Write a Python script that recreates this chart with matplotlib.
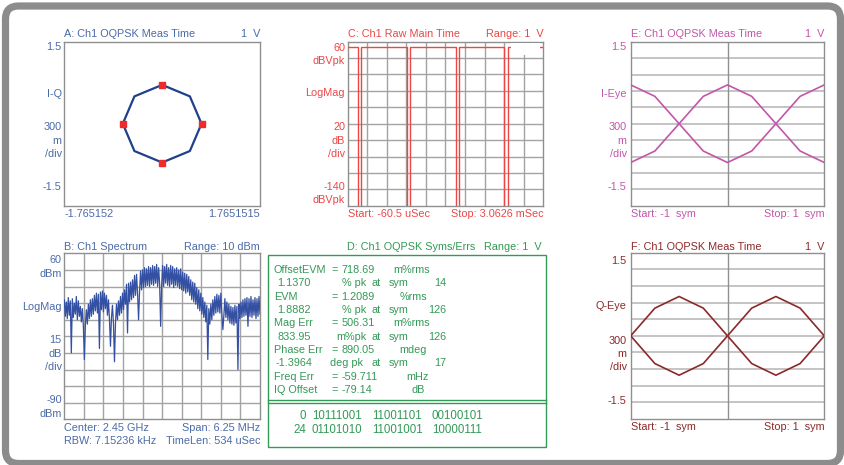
import numpy as np
import matplotlib
matplotlib.use("Agg")
import matplotlib.pyplot as plt
from matplotlib.patches import FancyBboxPatch, Rectangle

plt.rcParams['font.family'] = ['Liberation Sans', 'DejaVu Sans']

# ---------------- data ----------------
# A: I-Q constellation (octagon path) and symbol points
iq_i = [0, 0.5, 0.71, 0.5, 0, -0.5, -0.71, -0.5, 0]
iq_q = [0.71, 0.5, 0, -0.5, -0.71, -0.5, 0, 0.5, 0.71]
sym_i = [0, 0.71, 0, -0.71]
sym_q = [0.71, 0, -0.71, 0]
a_xlim = (-1.765152, 1.7651515)

# C: raw main time (burst edges in uSec)
c_start, c_stop = -60.5, 3062.6
c_gap_start = [104.5, 879.6, 1664.4, 2442.7]
c_gap_end = [158.9, 932.5, 1717.3, 2497.2]
c_on_level = 53
c_off_level = -200

# B: spectrum (dBm), one value per display column
b_center_ghz = 2.45
b_span_mhz = 6.25
b_dbm = [
    18, 3, 16, 1, 20, 4, 17, -30, 19, 2, 15, 5, 21, 0,
    17, 3, 12, -2, 10, -6, -36, -5, 9, -4, 14, 1, 18, 3,
    19, 5, 22, 8, 24, 6, 23, -26, 25, 9, 26, 7, 24, 10,
    22, 4, 18, 0, -24, 2, 13, -4, -38, -3, 14, 0, 17, 4,
    21, 6, 24, 9, 27, 14, 32, -12, 33, 16, 34, 18, 36, 20,
    40, 22, 41, 24, 0, 26, 44, 27, 45, 29, 47, 30, 46, 31,
    48, 30, 47, 32, 49, 31, 48, 33, 50, 30, 47, 32, -6, 31,
    49, 30, 48, 33, 50, 31, 47, 30, 49, 32, 48, 29, 46, 31,
    47, 30, 45, 28, 46, 27, 43, 26, 42, 24, 41, 25, 39, 22,
    36, 18, 34, 16, 33, 14, 29, 10, 27, 8, 24, 5, 20, 2,
    16, -2, 13, -36, 10, -4, 14, 0, 18, 4, 21, 6, 23, 7,
    22, 6, 24, 5, -9, 4, 19, 2, 16, 0, 14, -3, 12, -4,
    11, -5, 13, -3, 12, -45, 14, 1, 16, 2, 18, 3, 19, 4,
    20, -6, 19, 3, 21, 2, 18, 4, 20, 1, 19, 3, 21, 5,
]

# E / F: eye diagrams, quarter-symbol samples from -1 to 1 sym
eye_t = [-1, -0.75, -0.5, -0.25, 0, 0.25, 0.5, 0.75, 1]
i_eye = [0.71, 0.5, 0, -0.5, -0.71, -0.5, 0, 0.5, 0.71]
q_eye = [0, 0.5, 0.71, 0.5, 0, -0.5, -0.71, -0.5, 0]

# D: syms/errs table
d_rows = [
    ("OffsetEVM", "=", "718.69", "m%rms"),
    ("1.1370", "% pk", "at", "sym", "14"),
    ("EVM", "=", "1.2089", "%rms"),
    ("1.8882", "% pk", "at", "sym", "126"),
    ("Mag Err", "=", "506.31", "m%rms"),
    ("833.95", "m%pk", "at", "sym", "126"),
    ("Phase Err", "=", "890.05", "mdeg"),
    ("-1.3964", "deg pk", "at", "sym", "17"),
    ("Freq Err", "=", "-59.711", "mHz"),
    ("IQ Offset", "=", "-79.14", "dB"),
]
d_bits_idx = ["0", "24"]
d_bits = [["10111001", "11001101", "00100101"],
          ["01101010", "11001001", "10000111"]]

# ---------------- style ----------------
W, H = 844, 465
FS = 7.8
col_a = '#4a6aa8'
col_a_tr = '#1f408a'
col_b_tr = '#3450a3'
col_c = '#ec4646'
col_d = '#339957'
col_e = '#c256a8'
col_f = '#8e2828'
grid_c = '#a3a3a3'
grid_e = '#c4c4c4'
border = '#8f8f8f'

fig = plt.figure(figsize=(W / 100, H / 100), dpi=100)
bg = fig.add_axes([0, 0, 1, 1])
bg.set_xlim(0, W)
bg.set_ylim(H, 0)
bg.axis('off')

# outer frame
bg.add_patch(FancyBboxPatch((5.5, 6), 835, 457.5,
                            boxstyle="round,pad=0,rounding_size=13",
                            fc='white', ec='#8c8c8c', lw=5.2))


def txt(x, y, s, c, ha='left', fs=FS):
    bg.text(x, y, s, color=c, ha=ha, va='baseline', fontsize=fs)


def panel(x0, y0, x1, y1):
    ax = fig.add_axes([x0 / W, 1 - y1 / H, (x1 - x0) / W, (y1 - y0) / H])
    ax.set_xticks([])
    ax.set_yticks([])
    for s in ax.spines.values():
        s.set_color(border)
        s.set_linewidth(1.0)
    return ax


def full_grid(ax, xl, yl, c=grid_c, lw=1.0):
    for v in np.linspace(xl[0], xl[1], 11)[1:-1]:
        ax.axvline(v, color=c, lw=lw, zorder=1)
    for v in np.linspace(yl[0], yl[1], 11)[1:-1]:
        ax.axhline(v, color=c, lw=lw, zorder=1)


def side_labels(xr, labels, c):
    for y, s in labels:
        txt(xr, y, s, c, ha='right')

# ---------------- A ----------------
ax_a = panel(64.3, 41.7, 260, 205.7)
ax_a.set_xlim(*a_xlim)
ax_a.set_ylim(-1.5, 1.5)
ax_a.plot(iq_i, iq_q, color=col_a_tr, lw=1.6, zorder=3)
ax_a.plot(sym_i, sym_q, 's', color='#ee2a2a', ms=4.5, zorder=4)
txt(64.3, 37, "A: Ch1 OQPSK Meas Time", col_a)
txt(260, 37, "1  V", col_a, ha='right')
side_labels(61.7, [(50.4, "1.5"), (97, "I-Q"), (130.4, "300"), (143.7, "m"),
                   (157, "/div"), (190, "-1.5")], col_a)
txt(64.3, 216.5, "-1.765152", col_a)
txt(260, 216.5, "1.7651515", col_a, ha='right')

# ---------------- C ----------------
ax_c = panel(347.7, 41.7, 543.3, 205.7)
ax_c.set_xlim(c_start, c_stop)
ax_c.set_ylim(-140, 60)
full_grid(ax_c, (c_start, c_stop), (-140, 60))
ct, cl = [c_start], [c_on_level]
for g0, g1 in zip(c_gap_start, c_gap_end):
    ct += [g0, g0, g1, g1]
    cl += [c_on_level, c_off_level, c_off_level, c_on_level]
ct.append(c_stop)
cl.append(c_on_level)
ax_c.plot(ct, cl, color=col_c, lw=1.0, zorder=3)
ax_c.add_patch(Rectangle((511 / W, 1 - 55 / H), 29 / W, 12 / H,
                         transform=fig.transFigure, fc='white', ec='none',
                         zorder=10, clip_on=False))
txt(347.7, 37, "C: Ch1 Raw Main Time", col_c)
txt(543.3, 37, "Range: 1  V", col_c, ha='right')
side_labels(345, [(51, "60"), (64.4, "dBVpk"), (96.4, "LogMag"), (130.4, "20"),
                  (143.7, "dB"), (157, "/div"), (190, "-140"), (203, "dBVpk")], col_c)
txt(347.7, 216.7, "Start: -60.5 uSec", col_c)
txt(543.3, 216.7, "Stop: 3.0626 mSec", col_c, ha='right')

# ---------------- E ----------------
ax_e = panel(630.7, 41.7, 824.3, 205.7)
ax_e.set_xlim(-1, 1)
ax_e.set_ylim(-1.5, 1.5)
for v in np.linspace(-1.5, 1.5, 11)[1:-1]:
    ax_e.axhline(v, color=grid_e, lw=1.4, zorder=1)
ax_e.axvline(0, color='#909090', lw=1.0, zorder=1)
ax_e.plot(eye_t, i_eye, color=col_e, lw=1.2, zorder=3)
ax_e.plot(eye_t, [-v for v in i_eye], color=col_e, lw=1.2, zorder=3)
txt(630.7, 37, "E: Ch1 OQPSK Meas Time", col_e)
txt(824.3, 37, "1  V", col_e, ha='right')
side_labels(626.7, [(50.4, "1.5"), (97, "I-Eye"), (130.4, "300"), (143.7, "m"),
                    (157, "/div"), (190, "-1.5")], col_e)
txt(630.7, 216.7, "Start: -1  sym", col_e)
txt(824.3, 216.7, "Stop: 1  sym", col_e, ha='right')

# ---------------- B ----------------
ax_b = panel(64.3, 253.3, 260, 419.3)
f_lo = -b_span_mhz / 2
f_hi = b_span_mhz / 2
ax_b.set_xlim(f_lo, f_hi)
ax_b.set_ylim(-90, 60)
full_grid(ax_b, (f_lo, f_hi), (-90, 60))
bf = np.linspace(f_lo, f_hi, len(b_dbm))
ax_b.plot(bf, b_dbm, color=col_b_tr, lw=0.9, zorder=3)
txt(64.3, 249.7, "B: Ch1 Spectrum", col_a)
txt(260, 249.7, "Range: 10 dBm", col_a, ha='right')
side_labels(61.7, [(263, "60"), (277, "dBm"), (309.7, "LogMag"), (343, "15"),
                   (357, "dB"), (370.3, "/div"), (403, "-90"), (417, "dBm")], col_a)
txt(64.3, 431, "Center: 2.45 GHz", col_a)
txt(260, 431, "Span: 6.25 MHz", col_a, ha='right')
txt(64.3, 444.4, "RBW: 7.15236 kHz", col_a)
txt(260, 444.4, "TimeLen: 534 uSec", col_a, ha='right')

# ---------------- F ----------------
ax_f = panel(630.7, 252.7, 824.3, 419)
ax_f.set_xlim(-1, 1)
ax_f.set_ylim(-1.5, 1.5)
for v in np.linspace(-1.5, 1.5, 11)[1:-1]:
    ax_f.axhline(v, color=grid_e, lw=1.4, zorder=1)
ax_f.axvline(0, color='#909090', lw=1.0, zorder=1)
ax_f.plot(eye_t, q_eye, color=col_f, lw=1.2, zorder=3)
ax_f.plot(eye_t, [-v for v in q_eye], color=col_f, lw=1.2, zorder=3)
txt(630.7, 249.7, "F: Ch1 OQPSK Meas Time", col_f)
txt(824.3, 249.7, "1  V", col_f, ha='right')
side_labels(626.7, [(263.7, "1.5"), (309.4, "Q-Eye"), (343.7, "300"), (357, "m"),
                    (370.3, "/div"), (403.7, "-1.5")], col_f)
txt(630.7, 430.4, "Start: -1  sym", col_f)
txt(824.3, 430.4, "Stop: 1  sym", col_f, ha='right')

# ---------------- D ----------------
bg.add_patch(Rectangle((268.3, 255), 277.7, 192.3, fc='none', ec=col_d, lw=1.0))
bg.plot([268.3, 546], [400, 400], color=col_d, lw=1.0)
bg.plot([268.3, 546], [402.8, 402.8], color=col_d, lw=1.0)
txt(347.3, 249.7, "D: Ch1 OQPSK Syms/Errs", col_d)
txt(541.7, 249.7, "Range: 1  V", col_d, ha='right')
y0 = 273
for k, row in enumerate(d_rows):
    y = y0 + k * 13.33
    if row[1] == "=":
        txt(274, y, row[0], col_d)
        txt(331, y, row[1], col_d)
        txt(341.5, y, row[2], col_d)
        ux = {"m%rms": 393.3, "%rms": 400, "mdeg": 399.3, "mHz": 406, "dB": 411.7}[row[3]]
        txt(ux, y, row[3], col_d)
    else:
        txt(277.3 if not row[0].startswith('-') else 276, y, row[0], col_d)
        px = {"% pk": 341.7, "m%pk": 336, "deg pk": 330}[row[1]]
        txt(px, y, row[1], col_d)
        txt(371, y, row[2], col_d)
        txt(389, y, row[3], col_d)
        txt(446, y, row[4], col_d, ha='right')
for k in range(2):
    y = 419.4 + k * 13.3
    txt(306, y, d_bits_idx[k], col_d, ha='right', fs=8.3)
    for j, xb in enumerate([311.7, 371.7, 431.7]):
        txt(xb, y, d_bits[k][j], col_d, fs=8.3)

fig.savefig("out.png", dpi=100)
